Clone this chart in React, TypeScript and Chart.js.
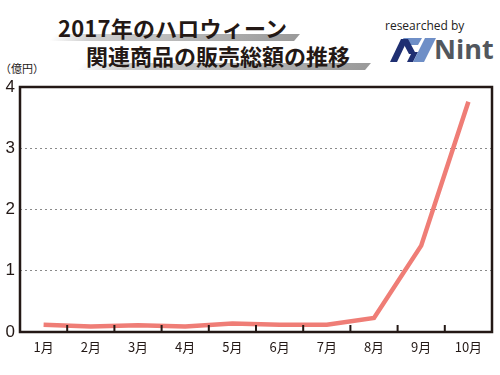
import React, { useEffect, useRef } from "react";
import { Chart, registerables } from "chart.js";

Chart.register(...registerables);

const months = ["1月", "2月", "3月", "4月", "5月", "6月", "7月", "8月", "9月", "10月"];
const sales = [0.12, 0.09, 0.11, 0.09, 0.14, 0.12, 0.12, 0.23, 1.41, 3.76];
const yTicks = [0, 1, 2, 3, 4];

const FONT = '"Noto Sans CJK JP", "Noto Sans", sans-serif';
const DARK = "#231815";

const framePlugin = {
  id: "frame",
  afterDatasetsDraw(chart: any) {
    const { ctx, chartArea, scales } = chart;
    const x = scales.x;
    ctx.save();
    ctx.strokeStyle = DARK;
    ctx.lineWidth = 2;
    for (let i = 0; i < months.length - 1; i++) {
      const px = (x.getPixelForValue(i) + x.getPixelForValue(i + 1)) / 2;
      ctx.beginPath();
      ctx.moveTo(px, chartArea.bottom);
      ctx.lineTo(px, chartArea.bottom - 7);
      ctx.stroke();
    }
    ctx.lineWidth = 2.5;
    ctx.strokeRect(chartArea.left, chartArea.top, chartArea.right - chartArea.left, chartArea.bottom - chartArea.top);
    ctx.restore();
  },
};

export default function App() {
  const ref = useRef<HTMLCanvasElement>(null);
  useEffect(() => {
    document.body.style.margin = "0";
    const chart = new Chart(ref.current!, {
      type: "line",
      data: {
        labels: months,
        datasets: [
          {
            data: sales,
            borderColor: "#ef7d76",
            borderWidth: 4.5,
            pointRadius: 0,
            tension: 0,
            borderCapStyle: "butt",
          },
        ],
      },
      options: {
        animation: false,
        responsive: false,
        layout: { padding: { top: 87, right: 8, left: 0, bottom: 0 } },
        plugins: { legend: { display: false }, tooltip: { enabled: false } },
        scales: {
          x: {
            offset: true,
            grid: { display: false, drawTicks: false },
            border: { display: false },
            ticks: { color: DARK, font: { family: FONT, size: 13 }, padding: 7, maxRotation: 0 },
            afterFit: (s: any) => {
              s.height = 43;
            },
          },
          y: {
            min: 0,
            max: 4,
            afterBuildTicks: (s: any) => {
              s.ticks = yTicks.map((v) => ({ value: v }));
            },
            grid: {
              drawTicks: false,
              color: (c: any) => (c.tick && (c.tick.value === 0 || c.tick.value === 4) ? "rgba(0,0,0,0)" : "#8a8a8a"),
              lineWidth: 1,
            },
            border: { display: false, dash: [2, 3] },
            ticks: { color: DARK, font: { family: '"Liberation Sans", Arial, sans-serif', size: 17 }, padding: 5 },
            afterFit: (s: any) => {
              s.width = 20;
            },
          },
        },
      },
      plugins: [framePlugin],
    } as any);
    return () => chart.destroy();
  }, []);

  const bar = (left: number, top: number, width: number, height: number) => (
    <div
      style={{
        position: "absolute",
        left,
        top,
        width,
        height,
        background: "linear-gradient(90deg, rgba(200,200,200,0) 0%, #d0d0d0 15%, #9a9a9a 100%)",
        transform: "skewX(-40deg)",
      }}
    />
  );

  return (
    <div style={{ position: "fixed", left: 0, top: 0, width: 500, height: 375, background: "#fff", fontFamily: FONT }}>
      {bar(52, 34, 245, 7)}
      {bar(80, 63, 288, 7)}
      <div style={{ position: "absolute", left: 58, top: 12, fontSize: 22, fontWeight: 700, color: "#231815", lineHeight: "30px", whiteSpace: "nowrap", letterSpacing: 0.2 }}>
        2017年のハロウィーン
      </div>
      <div style={{ position: "absolute", left: 86, top: 40, fontSize: 22, fontWeight: 700, color: "#231815", lineHeight: "30px", whiteSpace: "nowrap" }}>
        関連商品の販売総額の推移
      </div>
      <div style={{ position: "absolute", left: 0, top: 60, fontSize: 11, color: DARK, whiteSpace: "nowrap" }}>（億円）</div>
      <div style={{ position: "absolute", left: 385, top: 17, fontSize: 12, color: "#222", whiteSpace: "nowrap", fontFamily: '"Open Sans", sans-serif' }}>
        researched by
      </div>
      <svg style={{ position: "absolute", left: 388, top: 34 }} width={50} height={32} viewBox="0 0 50 32">
        <polygon points="2,28 13,5 20,5 9,28" fill="#1f2f72" />
        <polygon points="15,4 34,4 30,11 19,11" fill="#6f8fc7" />
        <polygon points="13,5 20,5 28,20 21,20" fill="#1f2f72" />
        <polygon points="19,28 24,18 30,18 25,28" fill="#1f2f72" />
        <polygon points="37,4 48,4 36,28 25,28" fill="#6f8fc7" />
      </svg>
      <div style={{ position: "absolute", left: 434, top: 31, fontSize: 27, fontWeight: 700, color: "#52575d", whiteSpace: "nowrap", fontFamily: '"Open Sans", sans-serif', lineHeight: "36px" }}>
        Nint
      </div>
      <canvas ref={ref} width={500} height={375} style={{ position: "absolute", left: 0, top: 0 }} />
    </div>
  );
}
